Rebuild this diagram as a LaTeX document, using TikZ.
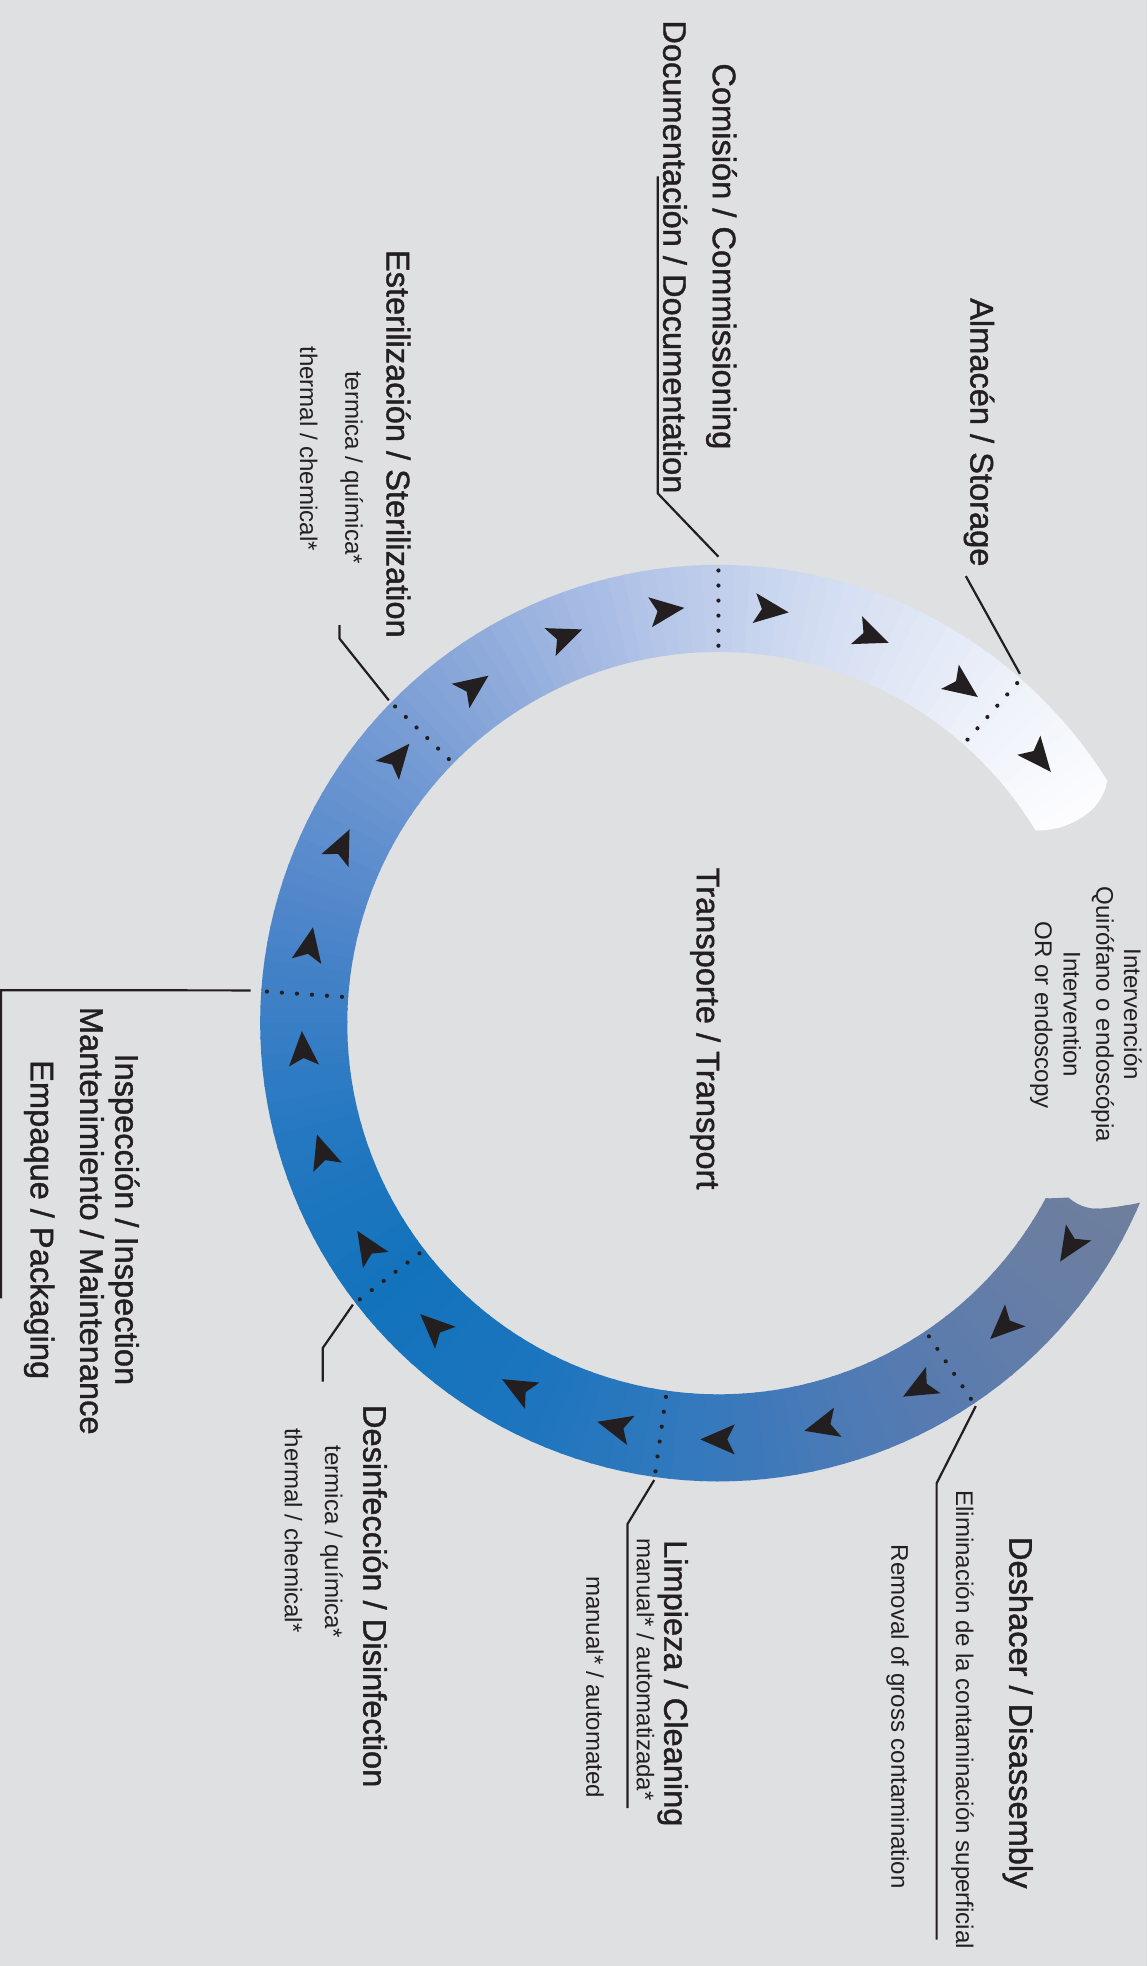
\documentclass[tikz,border=0pt]{standalone}
\usepackage{fontspec}
\setmainfont{Liberation Sans}
\newfontfamily\headfont[FakeBold=1.2]{Liberation Sans}
\usetikzlibrary{calc}
\definecolor{paper}{HTML}{DFE0E2}
\definecolor{ink}{HTML}{231F20}
\definecolor{g0}{RGB}{112,127,156}
\definecolor{g1}{RGB}{100,125,168}
\definecolor{g2}{RGB}{80,122,180}
\definecolor{g3}{RGB}{52,121,189}
\definecolor{g4}{RGB}{28,117,190}
\definecolor{g5}{RGB}{18,115,188}
\definecolor{g6}{RGB}{36,120,193}
\definecolor{g7}{RGB}{70,130,200}
\definecolor{g8}{RGB}{105,148,208}
\definecolor{g9}{RGB}{142,170,219}
\definecolor{g10}{RGB}{180,197,232}
\definecolor{g11}{RGB}{212,222,242}
\definecolor{g12}{RGB}{236,240,249}
\definecolor{g13}{RGB}{255,255,255}
\def\flowhead(#1){\fill[ink,shift={(#1:3.32)},rotate=#1-90] (0.145,0) -- (-0.13,0.12) -- (-0.07,0) -- (-0.13,-0.12) -- cycle;}
\def\stagedots(#1){\draw[ink,line width=0.95pt,line cap=round,dash pattern=on 0pt off 0.12cm] (#1:3.01) -- (#1:3.612);}
\tikzset{
	head/.style={rotate=-90, anchor=base, inner sep=0pt, text=ink, font=\headfont\fontsize{7.4}{8.9}\selectfont},
	note/.style={rotate=-90, anchor=base, inner sep=0pt, text=ink, font=\fontsize{5.46}{6.6}\selectfont},
	lead/.style={draw=ink, line width=0.5pt}
}

\begin{document}
\begin{tikzpicture}
		%%%%% START %%%%%
		
		\useasboundingbox (0,0) rectangle (9.15,-15.68);
		\fill[paper] (0,0) rectangle (9.15,-15.68);
		
		% ring, shaded around the cycle
		\begin{scope}[shift={(5.73,-8.16)}]
			\begin{scope}
				\clip (-23.06:3.654) arc[start angle=-23.06, end angle=-328.04, radius=3.654]
					.. controls (3.06,1.66) and (2.74,1.525) .. (31.3:2.96)
					arc[start angle=31.3, end angle=331.8, radius=2.96]
					-- (2.792,-1.391) .. controls (2.88,-1.47) and (2.98,-1.485) .. (3.045,-1.479)
					.. controls (3.15,-1.47) and (3.29,-1.45) .. (-23.06:3.654) -- cycle;
				\fill[g0] (0,0) -- (-5:4.2) arc[start angle=-5, end angle=-20.5, radius=4.2] -- cycle;
				\fill[g13] (0,0) -- (-331:4.2) arc[start angle=-331, end angle=-350, radius=4.2] -- cycle;
				\foreach \sa/\ca/\cb in {20/g0/g1,44/g1/g2,68/g2/g3,92/g3/g4,116/g4/g5,140/g5/g6,164/g6/g7,188/g7/g8,212/g8/g9,236/g9/g10,260/g10/g11,284/g11/g12,308/g12/g13}{
					\foreach \i in {0,...,11}{
						\pgfmathsetmacro\mixp{100-100*\i/12}
						\pgfmathsetmacro\aa{-\sa-2*\i}
						\fill[fill=\ca!\mixp!\cb] (0,0) -- (\aa:4.2) arc[start angle=\aa, end angle=\aa-2.3, radius=4.2] -- cycle;
					}
				}
			\end{scope}
			
			% stage marks
			\stagedots(48.7)
			\stagedots(90)
			\stagedots(135.6)
			\stagedots(176)
			\stagedots(217.6)
			\stagedots(262)
			\stagedots(303.9)
			
			% flow direction
			\flowhead(39.6)
			\flowhead(54)
			\flowhead(68.4)
			\flowhead(82.8)
			\flowhead(97.2)
			\flowhead(111.6)
			\flowhead(126)
			\flowhead(140.4)
			\flowhead(154.8)
			\flowhead(169.2)
			\flowhead(183.6)
			\flowhead(198)
			\flowhead(212.4)
			\flowhead(226.8)
			\flowhead(241.2)
			\flowhead(255.6)
			\flowhead(270)
			\flowhead(284.4)
			\flowhead(298.8)
			\flowhead(313.2)
			\flowhead(327.6)
			
			\coordinate (pStorage) at (49.2:3.68);
			\coordinate (pCommission) at (90:3.72);
			\coordinate (pSteril) at (135.6:3.68);
			\coordinate (pInspect) at (176:3.74);
			\coordinate (pDisinf) at (217.6:3.68);
			\coordinate (pClean) at (262:3.68);
			\coordinate (pDisasm) at (303.9:3.68);
		\end{scope}
		
		% labels
		\node[head] (storage) at (7.74,-3.448) {Almacén / Storage};
		\node[head] (commission) at (5.685,-2.045) {Comisión / Commissioning};
		\node[head] (documentation) at (5.29,-2.049) {Documentación / Documentation};
		\node[head] (steril) at (3.084,-3.54) {Esterilización / Sterilization};
		\node[note] (sterilEs) at (2.755,-3.729) {termica / química*};
		\node[note] (sterilEn) at (2.393,-3.578) {thermal / chemical*};
		\node[head] (inspect) at (0.92,-9.725) {Inspección / Inspection};
		\node[head] (maintain) at (0.64,-9.736) {Mantenimiento / Maintenance};
		\node[head] (packing) at (0.245,-9.728) {Empaque / Packaging};
		\node[head] (transport) at (5.557,-8.203) {Transporte / Transport};
		\node[note] (useEs) at (8.966,-8.09) {Intervención};
		\node[note] (roomEs) at (8.745,-8.09) {Quirófano o endoscópia};
		\node[note] (useEn) at (8.482,-8.09) {Intervention};
		\node[note] (roomEn) at (8.256,-8.096) {OR or endoscopy};
		\node[head] (disinf) at (2.898,-12.73) {Desinfección / Disinfection};
		\node[note] (disinfEs) at (2.593,-12.298) {termica / química*};
		\node[note] (disinfEn) at (2.273,-12.205) {thermal / chemical*};
		\node[head] (clean) at (5.298,-13.425) {Limpieza / Cleaning};
		\node[note] (cleanEs) at (5.079,-13.316) {manual* / automatizada*};
		\node[note] (cleanEn) at (4.676,-13.456) {manual* / automated};
		\node[head] (disasm) at (8.05,-13.66) {Deshacer / Disassembly};
		\node[note] (grossEs) at (7.625,-13.716) {Eliminación de la contaminación superficial};
		\node[note] (grossEn) at (7.11,-13.692) {Removal of gross contamination};
		
		% leaders
		\draw[lead] (pStorage) -- (7.703,-4.595);
		\draw[lead] (pCommission) -- (5.246,-3.935) -- (5.246,-1.406);
		\draw[lead] (pSteril) -- (2.707,-5.092) -- (2.707,-4.986);
		\draw[lead] (pInspect) -- (0.008,-7.897) -- (0.008,-10.355);
		\draw[lead] (pDisinf) -- (2.574,-10.751) -- (2.574,-11.02);
		\draw[lead] (pClean) -- (5.004,-12.156) -- (5.004,-14.421);
		\draw[lead] (pDisasm) -- (7.47,-11.83) -- (7.47,-15.47);
		
		%%%%% END %%%%%
\end{tikzpicture}
\end{document}
